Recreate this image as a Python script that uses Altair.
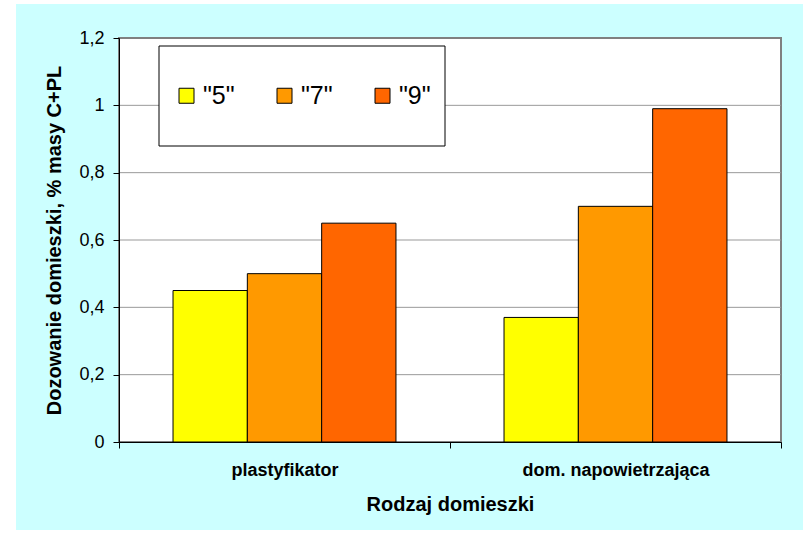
import altair as alt
import pandas as pd

# Admixture dosage by admixture type and consistency class
categories = ["plastyfikator", "dom. napowietrzająca"]
series = ['"5"', '"7"', '"9"']
values_5 = [0.45, 0.37]
values_7 = [0.50, 0.70]
values_9 = [0.65, 0.99]
colors = ["#FFFF00", "#FF9900", "#FF6600"]
y_ticks = [0, 0.2, 0.4, 0.6, 0.8, 1.0, 1.2]

rows = []
for s, vals in zip(series, [values_5, values_7, values_9]):
    for c, v in zip(categories, vals):
        rows.append({"rodzaj": c, "seria": s, "wartosc": v})
df = pd.DataFrame(rows)
grid_df = pd.DataFrame({"wartosc": y_ticks[1:-1]})
one = pd.DataFrame({"k": [0]})

W, H = 662, 404
y_scale = alt.Scale(domain=[0, 1.2], nice=False, zero=True)
y_axis = alt.Axis(
    title="Dozowanie domieszki, % masy C+PL",
    values=y_ticks,
    labelExpr="replace(toString(datum.value), '.', ',')",
    labelFontSize=18,
    labelPadding=9,
    tickSize=6,
    titleFontSize=20,
    titleFontWeight="bold",
    titlePadding=14,
    grid=False,
    zindex=1,
)

# cyan page panel behind everything
panel = alt.Chart(one).mark_rect(color="#CCFFFF").encode(
    x=alt.value(-103), x2=alt.value(684), y=alt.value(-34), y2=alt.value(492)
)

# white plot area with grey frame
plot_bg = alt.Chart(one).mark_rect(fill="white", stroke="#808080", strokeWidth=2).encode(
    x=alt.value(0), x2=alt.value(W), y=alt.value(0), y2=alt.value(H)
)

gridlines = alt.Chart(grid_df).mark_rule(color="#999999", strokeWidth=1).encode(
    y=alt.Y("wartosc:Q", scale=y_scale, axis=y_axis),
    x=alt.value(0),
    x2=alt.value(W),
)

bars = alt.Chart(df).mark_bar(stroke="black", strokeWidth=1, opacity=1).encode(
    x=alt.X(
        "rodzaj:N",
        sort=categories,
        scale=alt.Scale(paddingInner=0, paddingOuter=0),
        axis=alt.Axis(
            title="Rodzaj domieszki",
            labelAngle=0,
            labelFontSize=18,
            labelFontWeight="bold",
            labelPadding=13,
            labelLimit=400,
            tickSize=6,
            tickBand="extent",
            titleFontSize=20,
            titleFontWeight="bold",
            titlePadding=15,
            grid=False,
            zindex=1,
        ),
    ),
    xOffset=alt.XOffset(
        "seria:N", sort=series, scale=alt.Scale(paddingInner=0, paddingOuter=0.727)
    ),
    y=alt.Y("wartosc:Q", scale=y_scale, axis=y_axis),
    color=alt.Color(
        "seria:N",
        sort=series,
        scale=alt.Scale(domain=series, range=colors),
        legend=alt.Legend(
            title=None,
            orient="none",
            legendX=55,
            legendY=45,
            direction="horizontal",
            symbolType="square",
            symbolSize=225,
            symbolStrokeColor="black",
            symbolStrokeWidth=1,
            symbolOpacity=1,
            labelFontSize=25,
            labelOffset=4,
            columnPadding=37,
            padding=0,
        ),
    ),
)

# framed white box holding the legend
legend_box = alt.Chart(one).mark_rect(fill="white", stroke="black", strokeWidth=1).encode(
    x=alt.value(40), x2=alt.value(326), y=alt.value(8), y2=alt.value(108)
)

chart = (
    alt.layer(panel, plot_bg, gridlines, bars, legend_box)
    .properties(
        width=W,
        height=H,
        autosize=alt.AutoSizeParams(type="none"),
        padding={"left": 119, "top": 38, "right": 25, "bottom": 93},
        background="white",
    )
    .configure(font="Liberation Sans")
    .configure_view(stroke=None)
    .configure_axis(
        domainColor="black",
        domainWidth=1,
        tickColor="black",
        tickWidth=1,
        labelColor="black",
        titleColor="black",
    )
    .configure_axisY(labelFontSize=18)
    .configure_legend(labelColor="black")
)

chart.save("out.html", embed_options={"renderer": "svg", "actions": False})
